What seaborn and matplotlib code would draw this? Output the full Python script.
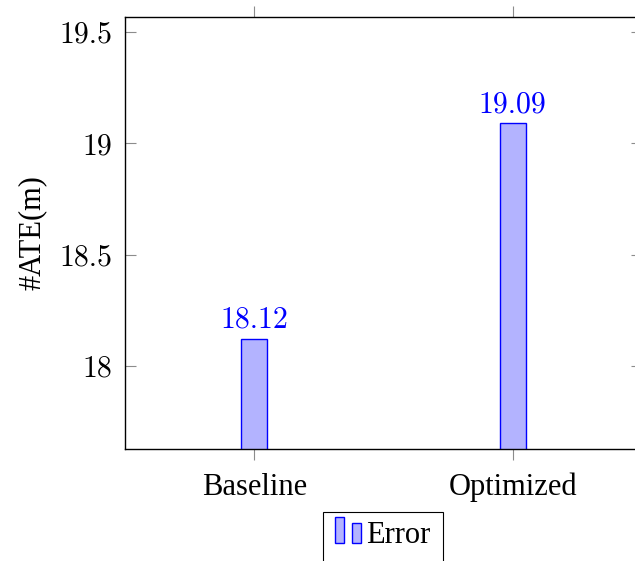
import matplotlib
matplotlib.use("Agg")
import matplotlib.pyplot as plt
from matplotlib.legend_handler import HandlerBase
from matplotlib.patches import Rectangle
from matplotlib.transforms import IdentityTransform
import pandas as pd
import seaborn as sns

# Data
methods = ["Baseline", "Optimized"]
ate_values = [18.12, 19.09]
value_labels = ["18.12", "19.09"]
ytick_values = [18.0, 18.5, 19.0, 19.5]
ytick_labels = ["18", "18.5", "19", "19.5"]
series_name = "Error"

FILL = (0.7, 0.7, 1.0)
EDGE = (0.0, 0.0, 1.0)
NUM_FONT = "cmr10"
TEXT_FONT = "Liberation Serif"

df = pd.DataFrame({"method": methods, "ate": ate_values})

fig = plt.figure(figsize=(6.35, 5.61), dpi=100)
ax = fig.add_axes([125 / 635, 1 - 449 / 561, (642 - 125) / 635, (449 - 17) / 561])

sns.barplot(data=df, x="method", y="ate", ax=ax, width=0.1, color=FILL,
            saturation=1, edgecolor=EDGE, linewidth=1.0)

ax.set_xlim(-0.5, 1.5)
ax.set_ylim(17.626, 19.568)

# Value labels above each bar
for i, (v, txt) in enumerate(zip(ate_values, value_labels)):
    ax.annotate(txt, (i, v), xytext=(0, 8), textcoords="offset points",
                ha="center", va="baseline", color=EDGE,
                fontfamily=NUM_FONT, fontsize=21.5)

# Axes frame and ticks
for s in ax.spines.values():
    s.set_color("black")
    s.set_linewidth(1.0)

ax.set_yticks(ytick_values)
ax.set_yticklabels(ytick_labels, fontfamily=NUM_FONT, fontsize=21.5)
ax.tick_params(axis="y", which="major", direction="in", length=8, width=0.8,
               color="0.55", left=True, right=True, pad=9)
ax.set_xticks(range(len(methods)))
ax.set_xticklabels(methods, fontfamily=TEXT_FONT, fontsize=22)
ax.tick_params(axis="x", which="major", direction="out", length=8, width=0.8,
               color="0.55", bottom=True, top=True, pad=9)

ax.set_xlabel("")
ax.set_ylabel("#ATE(m)", fontfamily=TEXT_FONT, fontsize=22, labelpad=9)


class TwoBarHandler(HandlerBase):
    """Legend key drawn as two small bars, like a ybar legend image."""

    def create_artists(self, legend, orig_handle, xdescent, ydescent,
                       width, height, fontsize, trans):
        arts = []
        for x0, w, h in [(0.0, 6.5, 18.7), (12.2, 6.0, 14.4)]:
            r = Rectangle((x0 - xdescent, -ydescent), w, h,
                          facecolor=FILL, edgecolor=EDGE, linewidth=1.0,
                          transform=trans)
            arts.append(r)
        return arts


proxy = Rectangle((0, 0), 1, 1, facecolor=FILL, edgecolor=EDGE)
leg = fig.legend([proxy], [series_name], loc="upper center",
                 bbox_to_anchor=(383 / 635, 1 - 512 / 561),
                 bbox_transform=fig.transFigure, borderaxespad=0,
                 handler_map={Rectangle: TwoBarHandler()},
                 handlelength=0.82, handletextpad=0.2, borderpad=0.3,
                 frameon=False, prop={"family": TEXT_FONT, "size": 22})

# Legend box: open-ended frame that runs past the lower edge of the figure
fig.canvas.draw()
bb = leg.get_window_extent()
frame = Rectangle((bb.x0 - 3, bb.y0 - 30), bb.width + 6, bb.height + 30,
                  transform=IdentityTransform(), facecolor="white",
                  edgecolor="black", linewidth=0.8, zorder=leg.get_zorder() - 0.1)
fig.add_artist(frame)

fig.savefig("out.png", dpi=100)
